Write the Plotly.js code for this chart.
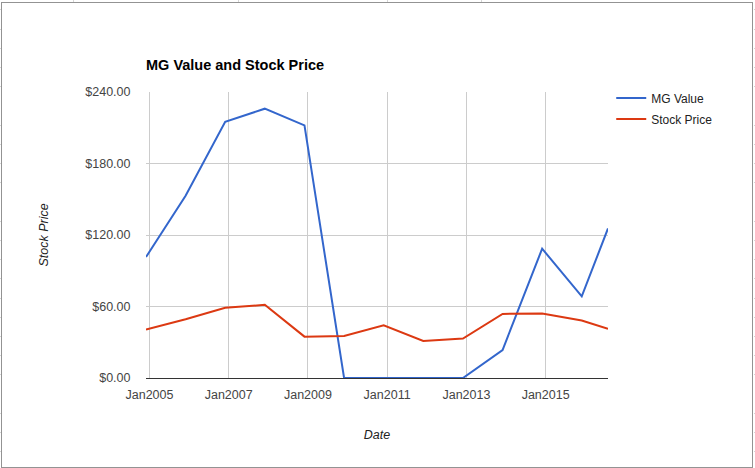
<!DOCTYPE html>
<html>
<head>
<meta charset="utf-8">
<script src="https://cdn.plot.ly/plotly-3.0.1.min.js"></script>
<style>
  html, body { margin: 0; padding: 0; background: #fff; }
  #wrap { position: relative; width: 755px; height: 468px; overflow: hidden; }
  #chart { position: absolute; left: 0; top: 0; width: 755px; height: 468px; }
  #frame { position: absolute; left: 1px; top: 2px; width: 750px; height: 464px;
           border: 1px solid #939393; pointer-events: none; }
  .vtick { position: absolute; top: 0; width: 1px; height: 2px; background: #d6d6d6; }
  .side { position: absolute; width: 1px; height: 468px;
          background: repeating-linear-gradient(to bottom, transparent 0px, transparent 9.5px, #d6d6d6 9.5px, #d6d6d6 10.5px, transparent 10.5px, transparent 19.2px); }
</style>
</head>
<body>
<div id="wrap">
  <div id="chart"></div>
  <div id="frame"></div>
  <div class="vtick" style="left:73px"></div>
  <div class="vtick" style="left:238px"></div>
  <div class="vtick" style="left:387px"></div>
  <div class="vtick" style="left:481px"></div>
  <div class="side" style="left:0px"></div>
  <div class="side" style="left:754px"></div>
</div>
<script>
// ---- data ----
const dates = ["2004-11-30","2005-11-30","2006-11-30","2007-11-30","2008-11-30","2009-11-30",
               "2010-11-30","2011-11-30","2012-11-30","2013-11-30","2014-11-30","2015-11-30","2016-07-29"];
const mgValue = [101.5, 153, 215, 226, 212, 0, 0, 0, 0, 23.5, 108.5, 68.5, 125.5];
const stockPrice = [40.6, 49.3, 58.9, 61.4, 34.7, 35.3, 44.3, 31.1, 33.1, 53.8, 54.2, 48.2, 41.2];
const xTickVals = ["2005-01-01","2007-01-01","2009-01-01","2011-01-01","2013-01-01","2015-01-01"];
const xTickText = ["Jan2005","Jan2007","Jan2009","Jan2011","Jan2013","Jan2015"];
const yTickVals = [0, 60, 120, 180, 240];
const yTickText = ["$0.00","$60.00","$120.00","$180.00","$240.00"];

const FONT = "Arial, 'Liberation Sans', sans-serif";

const traces = [
  { x: dates, y: mgValue, type: "scatter", mode: "lines", name: "MG Value", legendgroup: "a",
    line: { color: "#3366cc", width: 2 } },
  { x: dates, y: stockPrice, type: "scatter", mode: "lines", name: "Stock Price", legendgroup: "b",
    line: { color: "#dc3912", width: 2 } }
];

const layout = {
  width: 755, height: 468,
  margin: { l: 146, r: 147, t: 92, b: 90, pad: 0 },
  paper_bgcolor: "rgba(0,0,0,0)",
  plot_bgcolor: "#fff",
  font: { family: FONT, size: 12, color: "#444" },
  title: { text: "<b>MG Value and Stock Price</b>", xref: "paper", x: 0, xanchor: "left",
           yref: "container", y: 1 - 65/468, yanchor: "middle",
           font: { family: FONT, size: 14.5, color: "#000" } },
  showlegend: true,
  legend: { x: 1.007, xanchor: "left", y: 1.03, yanchor: "top",
            font: { family: FONT, size: 12, color: "#222" },
            bgcolor: "rgba(0,0,0,0)", tracegroupgap: 2, itemwidth: 30 },
  xaxis: {
    type: "date",
    range: [dates[0], dates[dates.length - 1]],
    tickvals: xTickVals, ticktext: xTickText,
    showgrid: true, gridcolor: "#cccccc", gridwidth: 1,
    zeroline: false, showline: false,
    ticks: "outside", ticklen: 5, tickcolor: "rgba(0,0,0,0)",
    tickfont: { family: FONT, size: 12.5, color: "#444" },
    title: { text: "<i>Date</i>", font: { family: FONT, size: 12.5, color: "#222" }, standoff: 29 },
    fixedrange: true
  },
  yaxis: {
    range: [0, 240],
    tickvals: yTickVals, ticktext: yTickText,
    showgrid: true, gridcolor: "#cccccc", gridwidth: 1,
    zeroline: true, zerolinecolor: "#333333", zerolinewidth: 1,
    showline: false,
    ticks: "outside", ticklen: 12, tickcolor: "rgba(0,0,0,0)",
    tickfont: { family: FONT, size: 12.5, color: "#444" },
    title: { text: "<i>Stock Price</i>", font: { family: FONT, size: 12.5, color: "#222" }, standoff: 33 },
    fixedrange: true
  }
};

Plotly.newPlot("chart", traces, layout, { displayModeBar: false, staticPlot: true });
</script>
</body>
</html>
